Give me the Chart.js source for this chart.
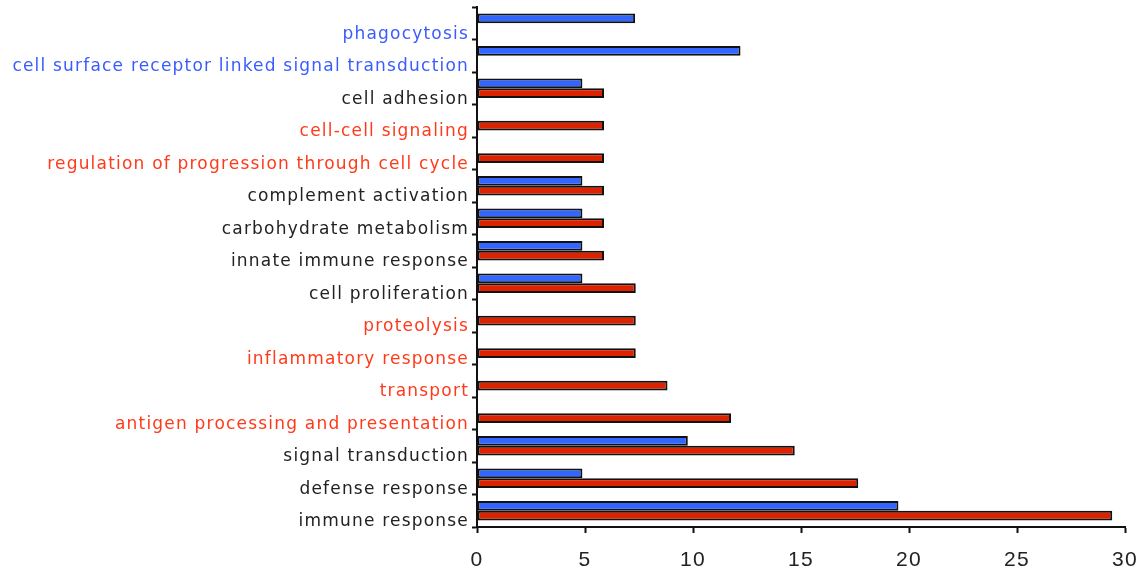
<!DOCTYPE html>
<html>
<head>
<meta charset="utf-8">
<script src="https://cdn.jsdelivr.net/npm/chart.js@4/dist/chart.umd.min.js"></script>
<style>
  html, body { margin: 0; padding: 0; background: #ffffff; }
  canvas { display: block; }
</style>
</head>
<body>
<canvas id="go" width="1148" height="569"></canvas>
<script>
// GO biological process terms, listed top to bottom
const categories = [
  "phagocytosis",
  "cell surface receptor linked signal transduction",
  "cell adhesion",
  "cell-cell signaling",
  "regulation of progression through cell cycle",
  "complement activation",
  "carbohydrate metabolism",
  "innate immune response",
  "cell proliferation",
  "proteolysis",
  "inflammatory response",
  "transport",
  "antigen processing and presentation",
  "signal transduction",
  "defense response",
  "immune response"
];

// Percent of genes per term (null = term absent from that set)
const blueValues = [7.32, 12.2, 4.88, null, null, 4.88, 4.88, 4.88, 4.88, null, null, null, null, 9.76, 4.88, 19.51];
const redValues  = [null, null, 5.88, 5.88, 5.88, 5.88, 5.88, 5.88, 7.35, 7.35, 7.35, 8.82, 11.76, 14.71, 17.65, 29.41];

// Which set each term is specific to: "b" blue only, "r" red only, "k" shared
const labelGroups = ["b", "b", "k", "r", "r", "k", "k", "k", "k", "r", "r", "r", "r", "k", "k", "k"];

const xTicks = [0, 5, 10, 15, 20, 25, 30];

const groupColors = { b: "#3a5cff", r: "#ff3a1a", k: "#222222" };
const LABEL_FONT = "'DejaVu Sans', Verdana, sans-serif";
const NUM_FONT = "'Liberation Sans', Arial, sans-serif";

// Wider tracking for all axis text
const trackingPlugin = {
  id: "tracking",
  beforeDraw(chart) { chart.ctx.letterSpacing = "1.2px"; },
  beforeDatasetsDraw(chart) { chart.ctx.letterSpacing = "0px"; }
};

new Chart(document.getElementById("go"), {
  type: "bar",
  data: {
    labels: categories,
    datasets: [
      {
        label: "blue set",
        data: blueValues,
        backgroundColor: "#3366ff",
        borderColor: "#111111",
        borderWidth: 2,
        borderSkipped: false,
        barPercentage: 1.0,
        categoryPercentage: 0.6
      },
      {
        label: "red set",
        data: redValues,
        backgroundColor: "#dd2200",
        borderColor: "#111111",
        borderWidth: 2,
        borderSkipped: false,
        barPercentage: 1.0,
        categoryPercentage: 0.6
      }
    ]
  },
  plugins: [trackingPlugin],
  options: {
    indexAxis: "y",
    responsive: false,
    animation: false,
    layout: { padding: { top: 7, right: 23, bottom: 0, left: 0 } },
    plugins: {
      legend: { display: false },
      tooltip: { enabled: false }
    },
    scales: {
      y: {
        type: "category",
        offset: true,
        grid: {
          offset: true,
          drawOnChartArea: false,
          drawTicks: true,
          tickLength: 5,
          tickWidth: 2,
          tickColor: "#111111"
        },
        border: { display: true, color: "#111111", width: 2 },
        ticks: {
          autoSkip: false,
          padding: 3,
          labelOffset: 11,
          font: { family: LABEL_FONT, size: 17 },
          color: (ctx) => groupColors[labelGroups[ctx.index]]
        },
        afterFit: (scale) => {
          scale.width = 477;
          scale.paddingTop = 0;
          scale.paddingBottom = 0;
        }
      },
      x: {
        type: "linear",
        min: 0,
        max: 30,
        afterBuildTicks: (scale) => { scale.ticks = xTicks.map(v => ({ value: v })); },
        grid: {
          drawOnChartArea: false,
          drawTicks: true,
          tickLength: 6,
          tickWidth: 2,
          tickColor: "#111111"
        },
        border: { display: true, color: "#111111", width: 2 },
        ticks: {
          padding: 15,
          font: { family: NUM_FONT, size: 21 },
          color: "#222222",
          maxRotation: 0
        },
        afterFit: (scale) => {
          scale.height = 42;
          scale.paddingLeft = 0;
          scale.paddingRight = 0;
        }
      }
    }
  }
});
</script>
</body>
</html>
